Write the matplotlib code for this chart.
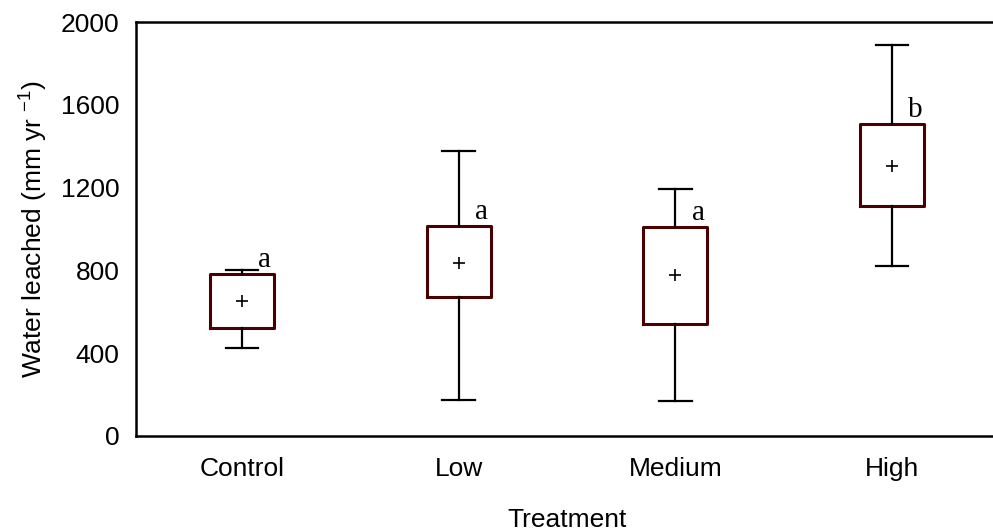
import matplotlib
matplotlib.use('Agg')
import matplotlib.pyplot as plt

# data (mm yr-1)
treatments = ['Control', 'Low', 'Medium', 'High']
whisker_low = [425, 174, 169, 821]
box_low = [522, 671, 541, 1111]
box_high = [783, 1014, 1010, 1507]
whisker_high = [802, 1377, 1193, 1889]
means = [652, 838, 778, 1304]
letters = ['a', 'a', 'a', 'b']

plt.rcParams['font.family'] = ['Liberation Sans', 'DejaVu Sans']
plt.rcParams['mathtext.default'] = 'regular'

fig = plt.figure(figsize=(9.93, 5.32), dpi=100)
ax = fig.add_axes([0.137, 0.1805, 0.863, 0.778])

stats = []
for i in range(len(treatments)):
    stats.append({'whislo': whisker_low[i], 'q1': box_low[i], 'med': means[i],
                  'q3': box_high[i], 'whishi': whisker_high[i], 'mean': means[i],
                  'fliers': [], 'label': treatments[i]})

pos = list(range(1, len(treatments) + 1))
ax.bxp(stats, positions=pos, widths=0.295, showmeans=True, showfliers=False,
       boxprops=dict(color='#4a0000', linewidth=2.2),
       whiskerprops=dict(color='black', linewidth=1.6),
       capprops=dict(color='black', linewidth=1.6),
       capwidths=0.15,
       medianprops=dict(linewidth=0),
       meanprops=dict(marker='+', markeredgecolor='black', markersize=9, markeredgewidth=1.2))

for i in range(len(treatments)):  # significance letters
    ax.text(pos[i] + 0.105, box_high[i] + 68, letters[i], ha='center', va='center',
            fontsize=21, family='Liberation Serif')

ax.set_xlim(0.511, 4.466)
ax.set_ylim(0, 2000)
ax.set_yticks([0, 400, 800, 1200, 1600, 2000])
ax.tick_params(length=0, labelsize=19)
ax.tick_params(axis='y', pad=12)
ax.tick_params(axis='x', pad=15)
ax.spines['right'].set_visible(False)
for s in ['left', 'top', 'bottom']:
    ax.spines[s].set_linewidth(1.8)
ax.set_xlabel('Treatment', fontsize=19)
ax.xaxis.set_label_coords(0.503, -0.174)
ax.set_ylabel('Water leached (mm yr $^{-1}$)', fontsize=19, labelpad=8)

fig.savefig('out.png', dpi=100)
